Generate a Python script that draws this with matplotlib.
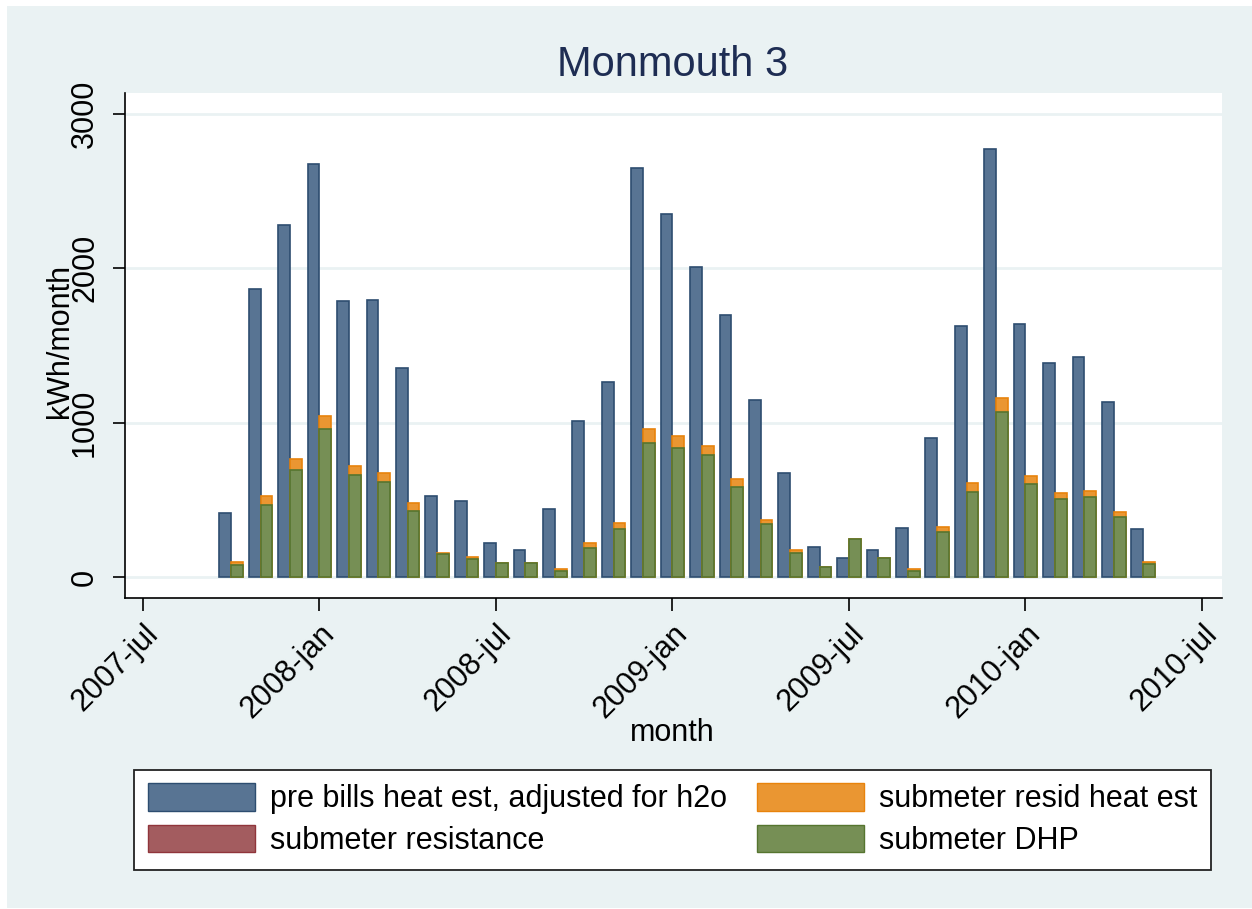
import matplotlib
matplotlib.use("Agg")
import matplotlib.pyplot as plt
from matplotlib.patches import Rectangle, Patch
import numpy as np

plt.rcParams['font.family'] = ['Liberation Sans', 'DejaVu Sans']

# months counted from 2007-jul (=0); data runs 2007-oct .. 2010-may
month_idx = list(range(3, 35))
pre_bills = [413, 1864, 2283, 2675, 1787, 1795, 1356, 527, 494, 222,
             175, 439, 1013, 1266, 2653, 2353, 2009, 1698, 1149, 672,
             192, 125, 175, 320, 899, 1629, 2772, 1640, 1385, 1426,
             1132, 311]
resid_heat = [99, 527, 763, 1045, 721, 672, 478, 157, 128, 89,
              89, 50, 218, 352, 957, 916, 849, 635, 369, 175,
              67, 244, 125, 50, 322, 607, 1162, 655, 546, 555,
              419, 97]
resistance = [0] * 32
dhp = [78, 467, 693, 957, 661, 614, 428, 147, 117, 89,
       89, 39, 186, 311, 866, 838, 791, 585, 341, 153,
       67, 244, 125, 39, 294, 553, 1071, 603, 505, 516,
       389, 84]

tick_pos = [0, 6, 12, 18, 24, 30, 36]
tick_labels = ['2007-jul', '2008-jan', '2008-jul', '2009-jan',
               '2009-jul', '2010-jan', '2010-jul']
y_ticks = [0, 1000, 2000, 3000]

# stata s2color-ish palette
blue_f, blue_e = '#587493', '#2d4d70'
orng_f, orng_e = '#ea9632', '#e8830c'
red_f, red_e = '#a35c5f', '#90353b'
grn_f, grn_e = '#768f55', '#56752f'
bg = '#eaf2f3'

fig = plt.figure(figsize=(12.52, 9.09), dpi=100, facecolor='white')
fig.patches.append(Rectangle((7 / 1252, 1 / 909), 1 - 7 / 1252, 1 - 7 / 909,
                             transform=fig.transFigure, facecolor=bg,
                             edgecolor='none', zorder=-10))

ax = fig.add_axes([125 / 1252, 1 - 598 / 909, (1222 - 125) / 1252, (598 - 93) / 909])
ax.set_facecolor('white')

x = np.array(month_idx)
w = 0.4
ax.bar(x - w / 2, pre_bills, width=w, color=blue_f, edgecolor=blue_e, linewidth=1.2, zorder=3)
ax.bar(x + w / 2, resid_heat, width=w, color=orng_f, edgecolor=orng_e, linewidth=1.2, zorder=3)
ax.bar(x + w / 2, resistance, width=w, color=red_f, edgecolor=red_e, linewidth=0, zorder=4)
ax.bar(x + w / 2, dhp, width=w, color=grn_f, edgecolor=grn_e, linewidth=1.2, zorder=5)

ax.set_xlim(-0.61, 36.68)
ax.set_ylim(-136, 3136)
ax.set_yticks(y_ticks)
ax.set_yticklabels([str(v) for v in y_ticks], rotation=90, va='center', fontsize=22)
ax.set_xticks(tick_pos)
ax.set_xticklabels(tick_labels, rotation=45, ha='right', va='top',
                   rotation_mode='anchor', fontsize=22)
ax.tick_params(axis='both', length=9, width=1.2, color='black')
ax.tick_params(axis='y', pad=9)
ax.tick_params(axis='x', pad=6)
ax.grid(axis='y', color=bg, linewidth=2, zorder=0)
ax.set_axisbelow(True)
for s in ['top', 'right']:
    ax.spines[s].set_visible(False)
for s in ['left', 'bottom']:
    ax.spines[s].set_linewidth(1.2)

fig.text(673 / 1252, 1 - 65 / 909, 'Monmouth 3', ha='center', va='center',
         fontsize=30, color='#1e2d53')
fig.text(672 / 1252, 1 - 733 / 909, 'month', ha='center', va='center', fontsize=22)
fig.text(60 / 1252, 1 - 341 / 909, 'kWh/month', ha='center', va='center',
         rotation=90, fontsize=22)

handles = [Patch(facecolor=blue_f, edgecolor=blue_e, label='pre bills heat est, adjusted for h2o'),
           Patch(facecolor=red_f, edgecolor=red_e, label='submeter resistance'),
           Patch(facecolor=orng_f, edgecolor=orng_e, label='submeter resid heat est'),
           Patch(facecolor=grn_f, edgecolor=grn_e, label='submeter DHP')]
leg = fig.legend(handles=handles, ncol=2, loc='lower left',
                 bbox_to_anchor=(134 / 1252, 1 - 870 / 909, 1077 / 1252, 102 / 909),
                 mode='expand', borderaxespad=0, fontsize=22, frameon=True,
                 fancybox=False, edgecolor='#222222', facecolor='white',
                 framealpha=1, handlelength=3.5,
                 handleheight=1.0, handletextpad=0.5, labelspacing=0.35,
                 columnspacing=0.5, borderpad=0.45)
leg.get_frame().set_linewidth(1.3)

fig.savefig('out.png', dpi=100, facecolor='white')
